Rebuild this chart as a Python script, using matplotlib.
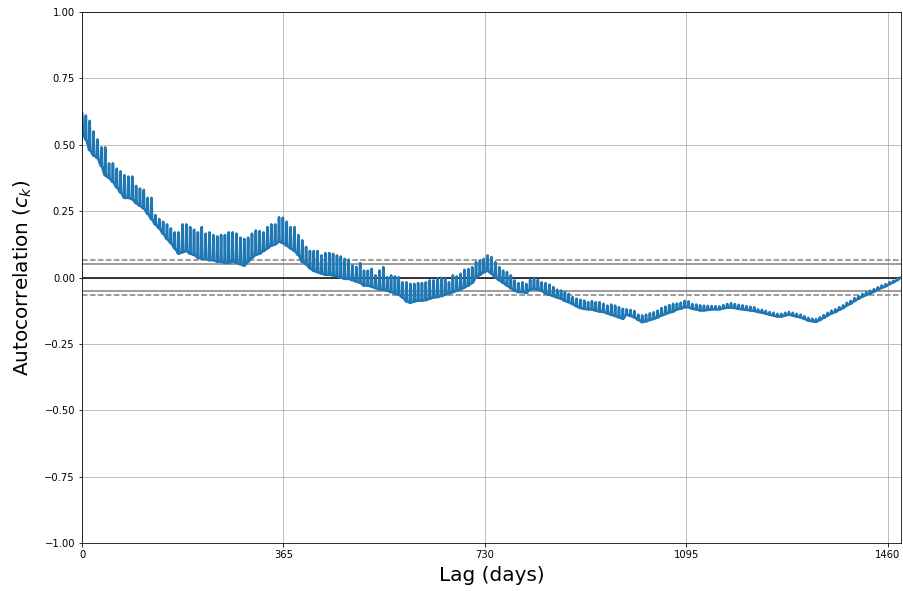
import matplotlib
matplotlib.use("Agg")
import matplotlib.pyplot as plt
import numpy as np

# number of observations behind the autocorrelation (sets the confidence bands)
n_obs = 1485

# weekly spike tops, one value per week (lag = 7 * week)
week_highs = [
    0.62, 0.61, 0.59, 0.55, 0.52, 0.49, 0.49, 0.43, 0.43, 0.41,
    0.40, 0.385, 0.38, 0.38, 0.345, 0.335, 0.33, 0.30, 0.30, 0.235,
    0.22, 0.21, 0.20, 0.185, 0.17, 0.17, 0.20, 0.20, 0.19, 0.18,
    0.17, 0.19, 0.165, 0.17, 0.16, 0.155, 0.16, 0.16, 0.17, 0.17,
    0.165, 0.15, 0.145, 0.15, 0.165, 0.177, 0.175, 0.17, 0.19, 0.20,
    0.20, 0.227, 0.225, 0.21, 0.19, 0.19, 0.16, 0.14, 0.115, 0.10,
    0.10, 0.10, 0.083, 0.092, 0.092, 0.089, 0.083, 0.079, 0.07, 0.067,
    0.045, 0.04, 0.054, 0.026, 0.026, 0.033, 0.008, 0.026, 0.039, 0.001,
    0.008, 0.004, 0.001, -0.018, -0.018, -0.024, -0.024, -0.021, -0.021, -0.018,
    -0.011, -0.011, -0.005, -0.001, -0.005, -0.018, 0.008, 0.004, 0.014, 0.029,
    0.032, 0.039, 0.058, 0.064, 0.07, 0.083, 0.077, 0.058, 0.039, 0.026,
    0.02, 0.008, -0.011, -0.021, -0.018, -0.024, -0.009, -0.005, -0.009, -0.018,
    -0.021, -0.027, -0.036, -0.046, -0.049, -0.055, -0.062, -0.074, -0.08, -0.084,
    -0.087, -0.093, -0.089, -0.093, -0.093, -0.099, -0.106, -0.102, -0.106, -0.112,
    -0.118, -0.12, -0.122, -0.126, -0.14, -0.143, -0.14, -0.135, -0.131, -0.125,
    -0.115, -0.11, -0.104, -0.099, -0.098, -0.095, -0.088, -0.09, -0.10, -0.102,
    -0.105, -0.106, -0.107, -0.108, -0.108, -0.109, -0.104, -0.10, -0.097, -0.10,
    -0.103, -0.105, -0.108, -0.11, -0.112, -0.12, -0.122, -0.126, -0.13, -0.133,
    -0.137, -0.137, -0.133, -0.13, -0.133, -0.137, -0.14, -0.146, -0.152, -0.155,
    -0.157, -0.15, -0.142, -0.133, -0.125, -0.12, -0.112, -0.105, -0.095, -0.088,
    -0.078, -0.07, -0.062, -0.056, -0.05, -0.044, -0.037, -0.03, -0.025, -0.018,
    -0.012, -0.005, 0.0,
]

# values between the spikes, one value per week
week_lows = [
    0.55, 0.52, 0.48, 0.46, 0.45, 0.42, 0.385, 0.375, 0.36, 0.34,
    0.32, 0.30, 0.30, 0.295, 0.28, 0.27, 0.26, 0.24, 0.22, 0.20,
    0.185, 0.165, 0.145, 0.13, 0.11, 0.09, 0.095, 0.10, 0.09, 0.085,
    0.075, 0.07, 0.07, 0.065, 0.065, 0.06, 0.06, 0.055, 0.055, 0.06,
    0.055, 0.05, 0.045, 0.06, 0.075, 0.085, 0.09, 0.10, 0.11, 0.12,
    0.125, 0.135, 0.13, 0.12, 0.11, 0.10, 0.085, 0.06, 0.05, 0.035,
    0.025, 0.02, 0.015, 0.01, 0.01, 0.008, 0.005, 0.0, -0.005, -0.005,
    -0.01, -0.015, -0.02, -0.03, -0.03, -0.035, -0.04, -0.045, -0.045, -0.05,
    -0.055, -0.06, -0.065, -0.075, -0.09, -0.095, -0.09, -0.087, -0.087, -0.085,
    -0.08, -0.075, -0.074, -0.07, -0.065, -0.06, -0.055, -0.05, -0.045, -0.037,
    -0.03, -0.02, 0.0, 0.01, 0.02, 0.025, 0.015, 0.0, -0.01, -0.02,
    -0.03, -0.04, -0.05, -0.055, -0.055, -0.058, -0.045, -0.043, -0.045, -0.05,
    -0.06, -0.065, -0.07, -0.075, -0.08, -0.088, -0.093, -0.10, -0.108, -0.115,
    -0.118, -0.12, -0.12, -0.125, -0.128, -0.13, -0.135, -0.14, -0.145, -0.15,
    -0.155, -0.14, -0.145, -0.15, -0.16, -0.168, -0.165, -0.16, -0.156, -0.15,
    -0.143, -0.138, -0.132, -0.128, -0.12, -0.117, -0.112, -0.112, -0.118, -0.12,
    -0.124, -0.124, -0.122, -0.12, -0.12, -0.12, -0.116, -0.114, -0.113, -0.115,
    -0.118, -0.12, -0.122, -0.124, -0.126, -0.13, -0.132, -0.136, -0.14, -0.143,
    -0.147, -0.147, -0.143, -0.14, -0.143, -0.147, -0.15, -0.156, -0.162, -0.165,
    -0.167, -0.16, -0.152, -0.143, -0.135, -0.13, -0.122, -0.115, -0.105, -0.098,
    -0.088, -0.08, -0.072, -0.066, -0.06, -0.053, -0.046, -0.039, -0.033, -0.025,
    -0.018, -0.01, 0.0,
]

xtick_days = [0, 365, 730, 1095, 1460]


def main():
    highs = np.array(week_highs)
    lows = np.array(week_lows)
    lags = 7 * np.arange(len(highs))

    # low -> spike -> low for every week
    x = np.column_stack([lags - 1, lags, lags + 1]).ravel()
    y = np.column_stack([lows, highs, lows]).ravel()
    x[0] = 0

    fig = plt.figure(figsize=(903 / 72, 591 / 72), dpi=72)
    ax = fig.add_axes([82 / 903, 48 / 591, 819 / 903, 531 / 591])

    z95 = 1.959963984540054
    z99 = 2.5758293035489004
    ax.axhline(y=z99 / np.sqrt(n_obs), linestyle="--", color="grey")
    ax.axhline(y=z95 / np.sqrt(n_obs), color="grey")
    ax.axhline(y=0.0, color="black")
    ax.axhline(y=-z95 / np.sqrt(n_obs), color="grey")
    ax.axhline(y=-z99 / np.sqrt(n_obs), linestyle="--", color="grey")

    ax.plot(x, y, color="#1f77b4", linewidth=2.6)

    ax.set_xlim(0, n_obs - 1)
    ax.set_ylim(-1.0, 1.0)
    ax.set_xticks(xtick_days)
    ax.tick_params(labelsize=10)
    ax.set_xlabel("Lag (days)", fontsize=20, labelpad=6)
    ax.set_ylabel("Autocorrelation ($c_k$)", fontsize=20, labelpad=10)
    ax.grid(True)

    fig.savefig("out.png", dpi=72)


if __name__ == "__main__":
    main()
